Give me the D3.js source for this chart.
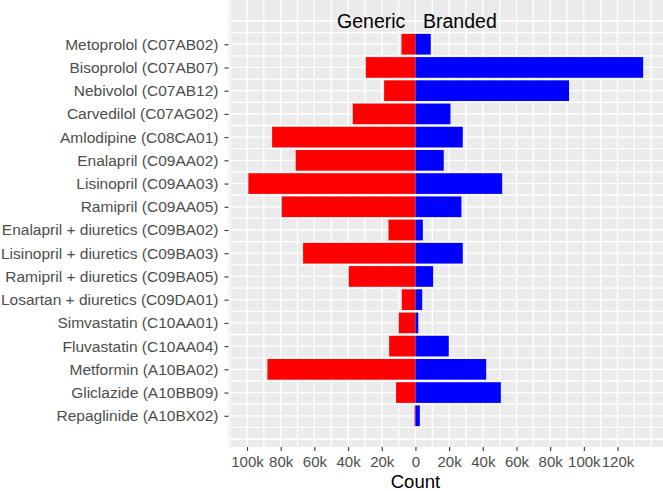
<!DOCTYPE html>
<html lang="en">
<head>
<meta charset="UTF-8">
<title>Generic vs branded prescriptions</title>
<script src="https://d3js.org/d3.v7.min.js"></script>
<style>
  body { margin: 0; background: #fff; }
  svg { display: block; font-family: "Liberation Sans", Arial, sans-serif; }
</style>
</head>
<body>
<svg width="663" height="491"></svg>
<script>
const drugs = [
  "Metoprolol (C07AB02)",
  "Bisoprolol (C07AB07)",
  "Nebivolol (C07AB12)",
  "Carvedilol (C07AG02)",
  "Amlodipine (C08CA01)",
  "Enalapril (C09AA02)",
  "Lisinopril (C09AA03)",
  "Ramipril (C09AA05)",
  "Enalapril + diuretics (C09BA02)",
  "Lisinopril + diuretics (C09BA03)",
  "Ramipril + diuretics (C09BA05)",
  "Losartan + diuretics (C09DA01)",
  "Simvastatin (C10AA01)",
  "Fluvastatin (C10AA04)",
  "Metformin (A10BA02)",
  "Gliclazide (A10BB09)",
  "Repaglinide (A10BX02)"
];
// counts
const generic = [8300, 29500, 18600, 37200, 85100, 71100, 99200, 79400, 16000, 66700, 39600, 8100, 9900, 15600, 87900, 11500, 500];
const branded = [9100, 135200, 91200, 20800, 28100, 16800, 51500, 27300, 4400, 28100, 10500, 4000, 1700, 19800, 42000, 50700, 2600];
const xTicks = [-100000, -80000, -60000, -40000, -20000, 0, 20000, 40000, 60000, 80000, 100000, 120000];
const xTickLabels = ["100k", "80k", "60k", "40k", "20k", "0", "20k", "40k", "60k", "80k", "100k", "120k"];

const svg = d3.select("svg");
const pLeft = 228.5, pRight = 663, pTop = 0, pBottom = 447;

const x = d3.scaleLinear().domain([-111000, 147000]).range([pLeft, pRight]);
const y = d3.scalePoint().domain(["top"].concat(drugs, ["bottom"])).range([21, 439]);
const step = y.step();
const barH = step * 0.89;

// panel
svg.append("rect")
  .attr("x", pLeft).attr("y", pTop)
  .attr("width", pRight - pLeft).attr("height", pBottom - pTop)
  .attr("fill", "#EBEBEB");

const grid = svg.append("g").attr("stroke", "#fff").attr("stroke-width", 1.3);
grid.selectAll("line.v")
  .data(d3.range(-110000, 140001, 10000))
  .join("line")
  .attr("class", "v")
  .attr("x1", d => x(d)).attr("x2", d => x(d))
  .attr("y1", pTop).attr("y2", pBottom);
grid.selectAll("line.h")
  .data(d3.range(0, 37).map(i => y("top") + i * step / 2))
  .join("line")
  .attr("class", "h")
  .attr("y1", d => d).attr("y2", d => d)
  .attr("x1", pLeft).attr("x2", pRight);

// bars
svg.append("g").selectAll("rect")
  .data(drugs)
  .join("rect")
  .attr("x", (d, i) => x(-generic[i]))
  .attr("width", (d, i) => x(0) - x(-generic[i]))
  .attr("y", d => y(d) - barH / 2)
  .attr("height", barH)
  .attr("fill", "#FF0000");

svg.append("g").selectAll("rect")
  .data(drugs)
  .join("rect")
  .attr("x", x(0))
  .attr("width", (d, i) => x(branded[i]) - x(0))
  .attr("y", d => y(d) - barH / 2)
  .attr("height", barH)
  .attr("fill", "#0000FF");

// header labels
svg.append("text")
  .attr("x", x(-6000)).attr("y", y("top"))
  .attr("text-anchor", "end").attr("dominant-baseline", "central")
  .attr("font-size", 19.5).attr("fill", "#000")
  .text("Generic");
svg.append("text")
  .attr("x", x(4500)).attr("y", y("top"))
  .attr("text-anchor", "start").attr("dominant-baseline", "central")
  .attr("font-size", 19.5).attr("fill", "#000")
  .text("Branded");

// axes
const yAxis = d3.axisLeft(y).tickValues(drugs).tickSize(4).tickPadding(6);
const yg = svg.append("g").attr("transform", `translate(${pLeft},0)`).call(yAxis);
yg.select(".domain").remove();
yg.selectAll(".tick line").attr("stroke", "#333").attr("stroke-width", 1.1);
yg.selectAll(".tick text").attr("fill", "#4D4D4D").attr("font-size", 15.5)
  .attr("font-family", "'Liberation Sans', Arial, sans-serif");

const xAxis = d3.axisBottom(x).tickValues(xTicks)
  .tickFormat((d, i) => xTickLabels[i]).tickSize(4).tickPadding(5.5);
const xg = svg.append("g").attr("transform", `translate(0,${pBottom})`).call(xAxis);
xg.select(".domain").remove();
xg.selectAll(".tick line").attr("stroke", "#333").attr("stroke-width", 1.1);
xg.selectAll(".tick text").attr("fill", "#4D4D4D").attr("font-size", 15)
  .attr("font-family", "'Liberation Sans', Arial, sans-serif");

svg.append("text")
  .attr("x", x(0)).attr("y", 487.5)
  .attr("text-anchor", "middle")
  .attr("font-size", 18.5).attr("fill", "#000")
  .text("Count");
</script>
</body>
</html>
